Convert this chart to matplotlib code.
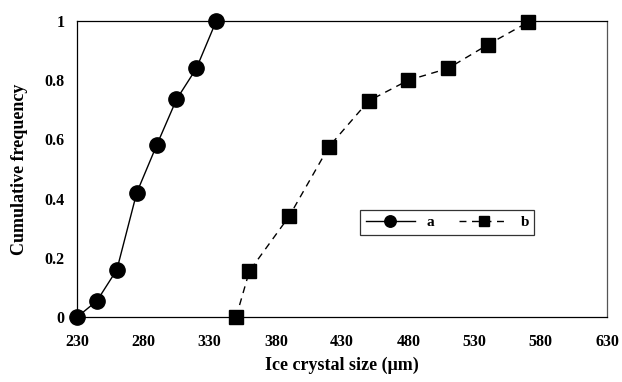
import numpy as np
import matplotlib.pyplot as plt

plt.rcParams['font.family'] = ['Liberation Serif', 'DejaVu Serif']
plt.rcParams['font.weight'] = 'bold'

# series a
size_a = [230, 245, 260, 275, 290, 305, 320, 335]
freq_a = [0, 0.055, 0.16, 0.42, 0.58, 0.735, 0.84, 1.0]

# series b
size_b = [350, 360, 390, 420, 450, 480, 510, 540, 570]
freq_b = [0, 0.155, 0.34, 0.575, 0.73, 0.80, 0.84, 0.92, 0.995]

xticks = [230, 280, 330, 380, 430, 480, 530, 580, 630]
yticks = [0, 0.2, 0.4, 0.6, 0.8, 1]
ytick_labels = ["0", "0.2", "0.4", "0.6", "0.8", "1"]

fig = plt.figure(figsize=(6.22, 3.82), dpi=100)
ax = fig.add_axes([0.124, 0.170, 0.852, 0.775])

ax.plot(size_a, freq_a, color='black', linewidth=1.0, marker='o',
        markersize=11, label='a', clip_on=False, zorder=3)
ax.plot(size_b, freq_b, color='black', linewidth=1.0, linestyle=(0, (5, 4)),
        marker='s', markersize=10.5, label='b', clip_on=False, zorder=3)

ax.set_xlim(230, 630)
ax.set_ylim(0, 1)
ax.set_xticks(xticks)
ax.set_yticks(yticks)
ax.set_yticklabels(ytick_labels)
ax.tick_params(axis='x', length=0, labelsize=11.5, pad=12)
ax.tick_params(axis='y', length=0, labelsize=11.5, pad=9)
for lbl in ax.get_xticklabels() + ax.get_yticklabels():
    lbl.set_fontweight('bold')

for s in ax.spines.values():
    s.set_linewidth(0.9)
ax.spines['right'].set_color('#555555')

ax.set_xlabel("Ice crystal size (\u03bcm)", fontsize=13, fontweight='bold', labelpad=5)
ax.set_ylabel("Cumulative frequency", fontsize=13, fontweight='bold', labelpad=12)

leg = ax.legend(loc='lower left', bbox_to_anchor=(0.52, 0.253, 0.357, 0.102),
                mode='expand', ncol=2, frameon=True, fancybox=False,
                markerscale=0.75, handlelength=3.2, borderpad=0.35,
                prop={'family': 'Liberation Serif', 'weight': 'bold', 'size': 11})
leg.get_frame().set_edgecolor('black')
leg.get_frame().set_linewidth(0.9)

plt.savefig("out.png", dpi=100)
